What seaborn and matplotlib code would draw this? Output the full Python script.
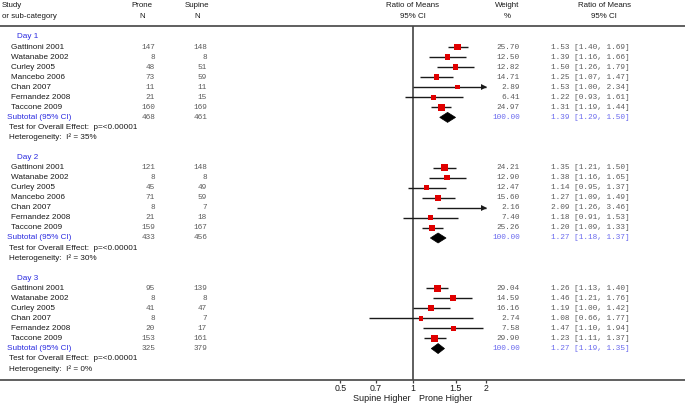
import numpy as np
import pandas as pd
import matplotlib
matplotlib.use('Agg')
import matplotlib.pyplot as plt
import seaborn as sns
from matplotlib import transforms
from matplotlib.patches import Polygon
from matplotlib.ticker import NullLocator

# ---------------- data ----------------
day_labels = ['Day 1', 'Day 2', 'Day 3']

d1_studies = ['Gattinoni 2001', 'Watanabe 2002', 'Curley 2005', 'Mancebo 2006',
              'Chan 2007', 'Fernandez 2008', 'Taccone 2009']
d1_prone = [147, 8, 48, 73, 11, 21, 160]
d1_supine = [148, 8, 51, 59, 11, 15, 169]
d1_weight = [25.70, 12.50, 12.82, 14.71, 2.89, 6.41, 24.97]
d1_est = [1.53, 1.39, 1.50, 1.25, 1.53, 1.22, 1.31]
d1_lo = [1.40, 1.16, 1.26, 1.07, 1.00, 0.93, 1.19]
d1_hi = [1.69, 1.66, 1.79, 1.47, 2.34, 1.61, 1.44]

d2_studies = ['Gattinoni 2001', 'Watanabe 2002', 'Curley 2005', 'Mancebo 2006',
              'Chan 2007', 'Fernandez 2008', 'Taccone 2009']
d2_prone = [121, 8, 45, 71, 8, 21, 159]
d2_supine = [148, 8, 49, 59, 7, 18, 167]
d2_weight = [24.21, 12.90, 12.47, 15.60, 2.16, 7.40, 25.26]
d2_est = [1.35, 1.38, 1.14, 1.27, 2.09, 1.18, 1.20]
d2_lo = [1.21, 1.16, 0.95, 1.09, 1.26, 0.91, 1.09]
d2_hi = [1.50, 1.65, 1.37, 1.49, 3.46, 1.53, 1.33]

d3_studies = ['Gattinoni 2001', 'Watanabe 2002', 'Curley 2005',
              'Chan 2007', 'Fernandez 2008', 'Taccone 2009']
d3_prone = [95, 8, 41, 8, 20, 153]
d3_supine = [139, 8, 47, 7, 17, 161]
d3_weight = [29.04, 14.59, 16.16, 2.74, 7.58, 29.90]
d3_est = [1.26, 1.46, 1.19, 1.08, 1.47, 1.23]
d3_lo = [1.13, 1.21, 1.00, 0.66, 1.10, 1.11]
d3_hi = [1.40, 1.76, 1.42, 1.77, 1.94, 1.37]

sub_prone = [468, 433, 325]
sub_supine = [461, 456, 379]
sub_est = [1.39, 1.27, 1.27]
sub_lo = [1.29, 1.18, 1.19]
sub_hi = [1.50, 1.37, 1.35]
overall_p = ['p=<0.00001', 'p=<0.00001', 'p=<0.00001']
het_i2 = ['35%', '30%', '0%']

tick_vals = [0.5, 0.7, 1, 1.5, 2]
tick_labels = ['0.5', '0.7', '1', '1.5', '2']

groups = [
    (d1_studies, d1_prone, d1_supine, d1_weight, d1_est, d1_lo, d1_hi),
    (d2_studies, d2_prone, d2_supine, d2_weight, d2_est, d2_lo, d2_hi),
    (d3_studies, d3_prone, d3_supine, d3_weight, d3_est, d3_lo, d3_hi),
]

# ---------------- layout ----------------
W, H = 685, 405
Y0, STEP = 37.0, 10.05
AX_TOP, AX_BOT = 26, 380
X_ONE = 413.0       # pixel of ratio 1
PX_PER_LN = 105.0
XMIN_PLOT, XMAX_PLOT = 0.5, 2.0

def row_y(i):
    return Y0 + i * STEP

sns.set_style('white')
plt.rcParams['font.family'] = ['Liberation Sans', 'DejaVu Sans']

fig = plt.figure(figsize=(W / 100, H / 100), dpi=100)
ax = fig.add_axes([0, (H - AX_BOT) / H, 1, (AX_BOT - AX_TOP) / H])
ax.set_xscale('log')
ax.set_xlim(np.exp(-X_ONE / PX_PER_LN), np.exp((W - X_ONE) / PX_PER_LN))
ax.set_ylim(AX_BOT, AX_TOP)

tr = transforms.blended_transform_factory(ax.transAxes, ax.transData)
def fx(px):
    return px / W

BLACK = '#1a1a1a'
GREY = '#5a5a5a'
BLUE = '#2a2ae0'
LBLUE = '#6a6aee'
RED = '#e00000'
LAB_FS = 5.9
NUM_FS = 5.6
mono = ['Liberation Mono', 'DejaVu Sans Mono']

# build study table
rows = []
subs = []
idx = 0
for g, (names, pn, sn, w, est, lo, hi) in enumerate(groups):
    head_idx = idx
    for k in range(len(names)):
        rows.append(dict(day=g, name=names[k], pn=pn[k], sn=sn[k], w=w[k],
                         est=est[k], lo=lo[k], hi=hi[k], y=row_y(idx + 1 + k)))
    sub_i = idx + 1 + len(names)
    subs.append(dict(head=row_y(head_idx), sub=row_y(sub_i),
                     test=row_y(sub_i + 1), het=row_y(sub_i + 2)))
    idx = sub_i + 4
df = pd.DataFrame(rows)

# reference line
ax.axvline(1, color='#333333', lw=1.1, zorder=1)

# CI lines
for _, r in df.iterrows():
    x0 = max(r.lo, XMIN_PLOT)
    x1 = min(r.hi, XMAX_PLOT)
    ax.plot([x0, x1], [r.y, r.y], color=BLACK, lw=1.0, solid_capstyle='butt', zorder=2)
    if r.hi > XMAX_PLOT:
        ax.plot([XMAX_PLOT * 0.985], [r.y], marker='>', ms=3.8, color=BLACK,
                mec=BLACK, mew=0, zorder=3)

# squares (weight -> size) via seaborn
sq = df[(df.est >= XMIN_PLOT) & (df.est <= XMAX_PLOT)]
sns.scatterplot(data=sq, x='est', y='y', size='w', sizes=(9, 24), size_norm=(0, 30),
                marker='s', color=RED, linewidth=0, legend=False, ax=ax, zorder=4)

# diamonds
for g in range(3):
    y = subs[g]['sub']
    poly = Polygon([(sub_lo[g], y), (sub_est[g], y - 5), (sub_hi[g], y), (sub_est[g], y + 5)],
                   closed=True, facecolor='black', edgecolor='black', lw=0.5, zorder=4)
    ax.add_patch(poly)

# study text rows
for _, r in df.iterrows():
    ax.text(fx(11), r.y, r['name'], transform=tr, ha='left', va='center',
            fontsize=LAB_FS, color=BLACK)
    ax.text(fx(155), r.y, f"{r.pn}", transform=tr, ha='right', va='center',
            fontsize=NUM_FS, color=GREY, family=mono)
    ax.text(fx(207), r.y, f"{r.sn}", transform=tr, ha='right', va='center',
            fontsize=NUM_FS, color=GREY, family=mono)
    ax.text(fx(520), r.y, f"{r.w:.2f}", transform=tr, ha='right', va='center',
            fontsize=NUM_FS, color=GREY, family=mono)
    ax.text(fx(551), r.y, f"{r.est:.2f} [{r.lo:.2f}, {r.hi:.2f}]", transform=tr,
            ha='left', va='center', fontsize=NUM_FS, color=GREY, family=mono)

# group text
for g in range(3):
    s = subs[g]
    ax.text(fx(17), s['head'], day_labels[g], transform=tr, ha='left', va='center',
            fontsize=LAB_FS, color=BLUE)
    ax.text(fx(7), s['sub'], 'Subtotal (95% CI)', transform=tr, ha='left', va='center',
            fontsize=LAB_FS, color=BLUE)
    ax.text(fx(155), s['sub'], f"{sub_prone[g]}", transform=tr, ha='right', va='center',
            fontsize=NUM_FS, color=GREY, family=mono)
    ax.text(fx(207), s['sub'], f"{sub_supine[g]}", transform=tr, ha='right', va='center',
            fontsize=NUM_FS, color=GREY, family=mono)
    ax.text(fx(520), s['sub'], "100.00", transform=tr, ha='right', va='center',
            fontsize=NUM_FS, color=LBLUE, family=mono)
    ax.text(fx(551), s['sub'], f"{sub_est[g]:.2f} [{sub_lo[g]:.2f}, {sub_hi[g]:.2f}]",
            transform=tr, ha='left', va='center', fontsize=NUM_FS, color=LBLUE, family=mono)
    ax.text(fx(9), s['test'], f"Test for Overall Effect:  {overall_p[g]}", transform=tr,
            ha='left', va='center', fontsize=LAB_FS, color=BLACK)
    ax.text(fx(9), s['het'], f"Heterogeneity:  I\u00b2 = {het_i2[g]}", transform=tr,
            ha='left', va='center', fontsize=LAB_FS, color=BLACK)

# headers
HFS = 5.7
ax.text(fx(2), 6, 'Study', transform=tr, ha='left', va='center', fontsize=HFS, color=BLACK)
ax.text(fx(2), 17, 'or sub-category', transform=tr, ha='left', va='center', fontsize=HFS, color=BLACK)
for cx, l1, l2 in [(142, 'Prone', 'N'), (197, 'Supine', 'N'), (413, 'Ratio of Means', '95% CI'),
                   (507, 'Weight', '%'), (604, 'Ratio of Means', '95% CI')]:
    ax.text(fx(cx), 6, l1, transform=tr, ha='center', va='center', fontsize=HFS, color=BLACK)
    ax.text(fx(cx), 17, l2, transform=tr, ha='center', va='center', fontsize=HFS, color=BLACK)

# bottom direction labels
ax.text(fx(410), 399, 'Supine Higher', transform=tr, ha='right', va='center', fontsize=6.5, color=BLACK)
ax.text(fx(419), 399, 'Prone Higher', transform=tr, ha='left', va='center', fontsize=6.5, color=BLACK)

# axes styling
ax.set_xticks(tick_vals)
ax.set_xticklabels(tick_labels)
ax.xaxis.set_minor_locator(NullLocator())
ax.tick_params(axis='x', direction='out', length=2.2, width=0.9, color='#444444',
               labelsize=6.3, pad=1, labelcolor=BLACK, bottom=True)
ax.set_yticks([])
ax.set_xlabel('')
ax.set_ylabel('')
for side in ['left', 'right']:
    ax.spines[side].set_visible(False)
for side in ['top', 'bottom']:
    ax.spines[side].set_visible(True)
    ax.spines[side].set_color('#444444')
    ax.spines[side].set_linewidth(1.2)
ax.set_facecolor('white')
fig.patch.set_facecolor('white')

fig.savefig('out.png', dpi=100, facecolor='white')
